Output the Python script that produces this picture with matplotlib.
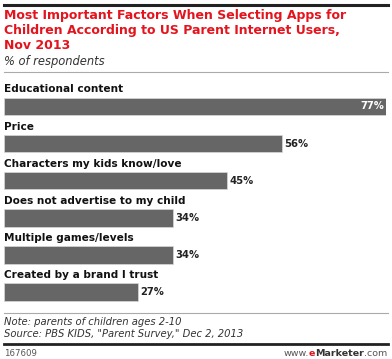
import matplotlib.pyplot as plt
from matplotlib.lines import Line2D

# ---- Data
factors = [
    "Educational content",
    "Price",
    "Characters my kids know/love",
    "Does not advertise to my child",
    "Multiple games/levels",
    "Created by a brand I trust",
]
shares = [77, 56, 45, 34, 34, 27]

title = ("Most Important Factors When Selecting Apps for\n"
         "Children According to US Parent Internet Users,\n"
         "Nov 2013")
subtitle = "% of respondents"
note = "Note: parents of children ages 2-10"
source = 'Source: PBS KIDS, "Parent Survey," Dec 2, 2013'
chart_id = "167609"

# ---- Figure
W, H = 392, 359
plt.rcParams['font.family'] = ['DejaVu Sans']
fig = plt.figure(figsize=(W / 100, H / 100), dpi=100)


def px(x, y):
    # pixel coords (top-left origin) -> figure fraction
    return x / W, 1 - y / H


def hline(y, x0, x1, lw, color):
    fig.add_artist(Line2D([x0 / W, x1 / W], [1 - y / H, 1 - y / H],
                          transform=fig.transFigure, lw=lw, color=color))


hline(5, 4, 388, 2.2, "#222222")
fig.text(*px(4, 9), title, color="#e3141d", fontsize=9.0, fontweight="bold",
         va="top", ha="left", linespacing=1.2)
fig.text(*px(4, 61), subtitle, color="#333333", fontsize=8.3,
         style="italic", va="center", ha="left")
hline(72, 4, 388, 0.8, "#aaaaaa")

# ---- Bars
top, bottom = 80, 310
ax = fig.add_axes([4 / W, 1 - bottom / H, (386 - 4) / W, (bottom - top) / H])
ypos = list(range(len(factors)))
ax.barh(ypos, shares, height=0.47, color="#666666", edgecolor="#d8d8d8",
        linewidth=0.5)
ax.set_xlim(0, 77)
ax.set_ylim(5.485, -0.714)
ax.axis("off")

for i, (lab, v) in enumerate(zip(factors, shares)):
    ax.text(0, i - 0.46, lab, fontsize=7.6, fontweight="bold",
            color="#111111", va="center", ha="left", clip_on=False)
    if i == 0:
        ax.text(v - 0.4, i, f"{v}%", fontsize=7.2, fontweight="bold",
                color="white", va="center", ha="right")
    else:
        ax.text(v + 0.5, i, f"{v}%", fontsize=7.2, fontweight="bold",
                color="#222222", va="center", ha="left")

# ---- Footer
hline(313, 4, 388, 0.8, "#aaaaaa")
fig.text(*px(4, 322), note, color="#333333", fontsize=7.2, style="italic",
         va="center", ha="left")
fig.text(*px(4, 334), source, color="#333333", fontsize=7.2, style="italic",
         va="center", ha="left")
hline(344, 4, 388, 2.0, "#222222")
fig.text(*px(4, 353), chart_id, color="#555555", fontsize=6.2,
         va="center", ha="left")

# right-aligned brand: www. + e + Marketer + .com
parts = [("www.", "#555555", "normal"), ("e", "#e3141d", "bold"),
         ("Marketer", "#333333", "bold"), (".com", "#555555", "normal")]
renderer = fig.canvas.get_renderer()
x = 387
for s, c, w in reversed(parts):
    tx = fig.text(*px(x, 353), s, color=c, fontsize=6.8, fontweight=w,
                  va="center", ha="right")
    x -= tx.get_window_extent(renderer=renderer).width

fig.savefig("out.png", dpi=100)
